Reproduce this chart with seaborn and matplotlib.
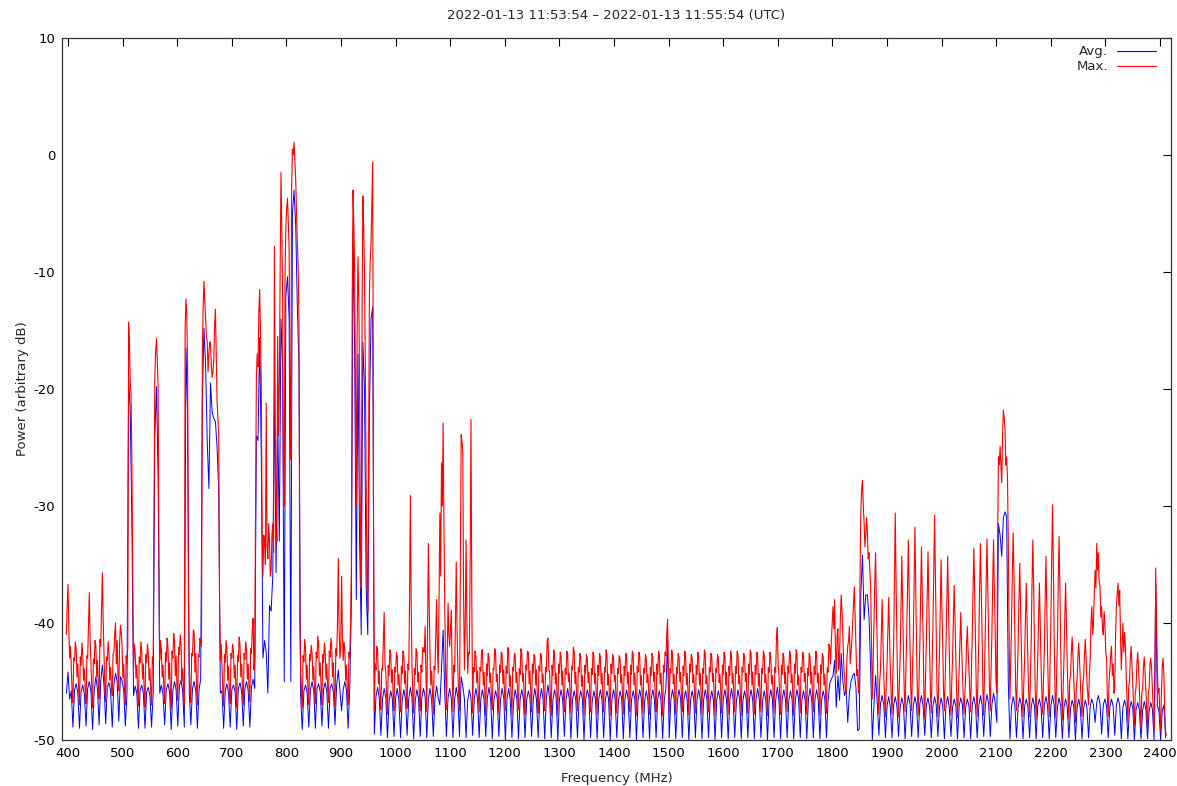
import numpy as np
import matplotlib
matplotlib.use("Agg")
import matplotlib.pyplot as plt
import seaborn as sns

# ---------------- data ----------------
title_text = "2022-01-13 11:53:54 \u2013 2022-01-13 11:55:54 (UTC)"
x_label = "Frequency (MHz)"
y_label = "Power (arbitrary dB)"
series_names = ["Avg.", "Max."]
x_ticks = list(range(400, 2401, 100))
y_ticks = list(range(-50, 11, 10))

# sample grid of the sweep (MHz): Avg. every 3 MHz, Max. every 1.5 MHz
F_START = 397
F_STEP = 3

# ---- Avg. (dB), 397 - 970 MHz
avg_uhf = [
    -46.0, -44.2, -46.5, -45.8, -48.9, -45.7, -45.2, -46.0, -49.0, -45.9, -45.3, -46.1,
    -48.8, -45.6, -45.0, -45.9, -49.1, -45.8, -44.6, -45.7, -48.7, -44.9, -43.6, -45.4,
    -48.6, -45.5, -45.1, -45.8, -48.9, -45.3, -44.3, -45.0, -48.4, -44.6, -44.9, -45.8,
    -48.8, -46.0, -19.0, -22.0, -31.5, -46.2, -45.4, -46.0, -49.0, -45.8, -45.3, -46.0,
    -49.0, -45.9, -45.5, -46.2, -48.9, -46.0, -24.0, -19.8, -27.5, -46.0, -45.3, -46.1,
    -48.7, -45.7, -45.2, -45.9, -49.1, -45.8, -45.0, -45.7, -48.8, -45.4, -44.9, -45.8,
    -48.9, -16.5, -22.0, -45.9, -48.7, -45.6, -45.0, -45.8, -49.0, -45.7, -44.8, -21.0,
    -14.8, -18.0, -24.5, -28.5, -19.5, -22.0, -22.5, -22.8, -25.0, -28.6, -46.0, -45.8,
    -49.0, -45.8, -45.2, -46.0, -48.9, -45.7, -45.3, -45.9, -49.1, -45.6, -45.1, -45.9,
    -48.8, -45.6, -45.0, -45.8, -48.9, -45.5, -44.8, -45.6, -24.0, -24.4, -15.6, -26.0,
    -43.0, -41.5, -42.5, -46.0, -38.5, -39.0, -36.0, -20.0, -35.7, -22.0, -33.0, -14.0,
    -18.0, -45.0, -12.0, -10.4, -14.0, -45.0, -5.0, -3.0, -6.0, -13.0, -18.0, -46.2,
    -49.1, -45.8, -45.3, -46.0, -48.9, -45.7, -45.0, -45.8, -49.0, -45.6, -45.2, -45.9,
    -48.8, -45.7, -45.1, -45.9, -49.0, -45.6, -45.2, -45.9, -48.7, -45.3, -44.0, -45.8,
    -47.5, -45.7, -45.0, -45.8, -49.0, -45.6, -38.0, -6.5, -17.0, -38.0, -17.0, -33.0,
    -41.0, -16.0, -20.0, -37.0, -41.0, -22.0, -14.0, -13.0, -49.5, -46.3, -45.5, -46.4,
]
# ---- Avg. (dB), 973 - 1798 MHz
avg_mid = [
    -49.6, -46.5, -45.6, -46.4, -49.8, -46.7, -45.8, -46.5, -49.7, -46.4, -45.6, -46.6,
    -49.8, -46.6, -45.7, -46.5, -49.6, -46.5, -45.5, -46.4, -49.9, -46.6, -45.7, -46.5,
    -49.7, -46.4, -45.6, -46.3, -49.8, -46.5, -45.6, -46.6, -49.7, -46.5, -45.4, -46.4,
    -47.0, -44.0, -40.6, -46.0, -49.7, -46.4, -45.6, -46.5, -49.8, -46.6, -45.5, -46.4,
    -49.7, -44.6, -45.4, -46.5, -49.8, -46.6, -45.7, -46.4, -49.6, -46.5, -45.6, -46.5,
    -49.8, -46.5, -45.7, -46.6, -49.7, -46.4, -45.5, -46.5, -49.9, -46.6, -45.8, -46.4,
    -49.7, -46.6, -45.6, -46.4, -50.0, -46.5, -45.6, -46.6, -49.8, -46.7, -45.7, -46.5,
    -49.9, -46.5, -45.7, -46.5, -49.8, -46.6, -45.8, -46.4, -49.7, -46.5, -45.6, -46.6,
    -49.8, -46.6, -45.6, -46.5, -49.9, -46.4, -45.3, -46.5, -49.8, -46.6, -45.7, -46.4,
    -50.0, -46.5, -45.7, -46.6, -49.7, -46.6, -45.6, -46.5, -49.9, -46.5, -45.8, -46.6,
    -49.8, -46.6, -45.8, -46.5, -50.0, -46.5, -45.7, -46.4, -49.8, -46.7, -45.8, -46.5,
    -49.9, -46.5, -45.7, -46.6, -49.8, -46.6, -45.8, -46.5, -50.0, -46.6, -45.7, -46.5,
    -49.8, -46.7, -45.8, -46.5, -49.9, -46.5, -45.7, -46.6, -49.8, -46.6, -45.8, -46.5,
    -50.0, -46.6, -45.7, -46.5, -49.8, -46.7, -45.8, -46.6, -49.9, -46.5, -45.7, -46.6,
    -49.8, -46.5, -45.8, -46.6, -49.9, -46.6, -45.5, -41.5, -49.8, -46.6, -45.7, -46.5,
    -49.9, -46.6, -45.7, -46.5, -49.8, -46.5, -45.8, -46.6, -50.0, -46.7, -45.8, -46.5,
    -49.8, -46.5, -45.7, -46.6, -49.9, -46.6, -45.7, -46.5, -49.8, -46.6, -45.8, -46.6,
    -50.0, -46.6, -45.8, -46.5, -49.8, -46.5, -45.7, -46.6, -49.9, -46.6, -45.6, -46.5,
    -49.8, -46.7, -45.7, -46.6, -49.9, -46.6, -45.8, -46.5, -49.8, -46.5, -45.7, -46.6,
    -49.9, -46.5, -45.6, -46.5, -49.8, -46.7, -45.8, -46.6, -50.0, -46.6, -45.7, -46.5,
    -49.8, -46.6, -45.5, -46.6, -49.9, -46.5, -45.7, -46.6, -49.8, -46.7, -45.8, -46.5,
    -49.9, -46.6, -45.7, -46.5, -49.8, -46.6, -45.8, -46.6, -49.9, -46.5, -45.6, -46.6,
    -49.8, -46.5, -45.7, -46.6, -49.9, -46.6, -45.8, -46.5, -49.8, -46.6, -45.2, -44.8,
]
# ---- Avg. (dB), 1801 - 2410 MHz
avg_high = [
    -44.5, -43.2, -47.2, -44.5, -46.6, -42.6, -44.9, -46.2, -45.7, -48.5, -46.0, -45.0,
    -44.5, -44.3, -45.5, -49.2, -49.1, -37.5, -34.2, -39.7, -37.6, -37.6, -39.5, -44.0,
    -50.0, -47.0, -44.5, -46.8, -49.6, -46.9, -46.2, -47.0, -49.8, -47.1, -46.3, -47.2,
    -49.8, -47.0, -46.3, -47.1, -49.7, -47.2, -46.4, -47.0, -49.9, -47.1, -46.2, -46.9,
    -49.7, -47.1, -46.3, -47.0, -49.8, -46.9, -46.2, -47.1, -49.6, -47.0, -46.4, -47.2,
    -49.8, -47.1, -46.3, -47.0, -49.7, -47.2, -46.4, -47.1, -49.9, -47.0, -46.3, -47.2,
    -49.7, -47.2, -46.5, -47.1, -49.9, -47.1, -46.4, -47.0, -49.8, -47.2, -46.5, -47.1,
    -49.9, -47.0, -46.3, -47.1, -49.8, -47.1, -46.2, -47.0, -49.7, -47.0, -46.1, -46.9,
    -49.7, -47.0, -46.0, -46.8, -48.5, -31.5, -32.5, -34.3, -31.0, -30.5, -30.9, -45.0,
    -49.9, -47.1, -46.3, -47.0, -49.8, -47.2, -46.4, -47.0, -49.9, -47.1, -46.5, -47.2,
    -49.8, -47.2, -46.4, -47.1, -49.9, -47.1, -46.5, -47.2, -49.8, -47.0, -46.3, -47.1,
    -49.9, -47.1, -46.2, -47.0, -49.8, -47.2, -46.4, -47.1, -49.9, -47.2, -46.5, -47.2,
    -49.8, -47.3, -46.6, -47.2, -50.0, -47.2, -46.5, -47.3, -49.9, -47.3, -46.6, -47.2,
    -49.8, -47.1, -46.5, -47.0, -48.5, -46.8, -46.2, -46.9, -49.5, -47.0, -46.5, -47.1,
    -49.8, -47.2, -46.5, -47.1, -49.6, -47.0, -46.4, -47.0, -49.9, -47.2, -46.6, -47.2,
    -49.9, -47.4, -46.7, -47.3, -50.0, -47.4, -46.8, -47.4, -49.9, -47.5, -46.7, -47.4,
    -49.9, -47.5, -46.8, -47.4, -50.0, -36.6, -47.0, -47.6, -50.0, -47.5, -47.0, -49.8,
]

# ---- Max. (dB) on the 3 MHz grid
max_uhf = [
    -41.0, -36.7, -43.0, -43.8, -46.8, -43.2, -42.3, -43.5, -47.0, -43.6, -42.6, -43.9,
    -46.9, -43.0, -37.4, -43.4, -47.2, -43.5, -41.9, -43.2, -46.5, -42.0, -35.7, -42.8,
    -46.7, -43.2, -42.4, -43.8, -46.2, -42.5, -40.0, -41.5, -45.8, -40.2, -42.0, -43.5,
    -47.0, -43.5, -14.3, -19.5, -26.5, -43.8, -42.5, -43.6, -47.1, -43.4, -42.4, -43.5,
    -47.2, -43.4, -42.6, -43.9, -47.0, -43.5, -19.0, -15.7, -19.8, -43.2, -42.3, -43.6,
    -46.9, -43.3, -42.0, -43.4, -47.3, -43.0, -41.5, -42.8, -46.6, -42.7, -41.8, -43.9,
    -47.0, -12.3, -18.0, -43.5, -46.8, -42.8, -40.8, -42.6, -47.0, -42.9, -41.6, -17.0,
    -10.8, -14.0, -16.0, -17.0, -16.0, -19.0, -17.5, -13.2, -21.0, -24.0, -43.2, -43.6,
    -47.1, -43.4, -42.2, -43.7, -46.9, -43.0, -42.5, -43.6, -47.2, -43.3, -41.9, -43.5,
    -47.0, -43.1, -42.3, -43.5, -46.7, -42.6, -39.6, -43.0, -19.0, -18.1, -11.5, -20.0,
    -36.0, -33.0, -21.2, -34.5, -33.0, -35.5, -31.5, -7.8, -30.3, -15.5, -20.0, -1.5,
    -12.0, -30.0, -6.0, -3.7, -8.0, -26.0, 0.5, 1.1, -2.1, -7.5, -14.0, -43.8,
    -47.2, -43.3, -42.1, -43.6, -47.0, -43.2, -42.6, -43.7, -46.9, -43.0, -41.8, -43.4,
    -47.0, -43.4, -42.4, -43.5, -46.8, -42.9, -42.0, -43.4, -47.1, -42.8, -34.5, -43.0,
    -36.0, -43.2, -42.3, -43.6, -47.0, -43.0, -35.0, -3.0, -10.0, -30.0, -8.7, -20.0,
    -37.0, -3.5, -10.0, -28.0, -39.0, -12.0, -7.5, -0.6, -47.5, -44.0, -42.4, -44.1,
]
max_mid = [
    -47.4, -44.0, -39.1, -44.3, -47.8, -44.5, -42.6, -44.0, -47.5, -44.2, -42.9, -44.4,
    -47.6, -44.3, -42.7, -44.1, -47.3, -44.0, -29.1, -43.8, -47.7, -44.4, -42.5, -44.2,
    -47.5, -44.2, -42.4, -40.3, -47.6, -33.2, -42.8, -44.1, -47.8, -44.0, -38.0, -44.3,
    -30.6, -26.3, -22.9, -38.5, -47.4, -38.3, -42.0, -38.9, -47.6, -44.2, -34.8, -44.0,
    -47.5, -23.9, -25.4, -44.0, -32.9, -44.3, -42.6, -22.6, -47.7, -44.2, -42.8, -44.1,
    -47.6, -44.1, -42.3, -44.2, -47.9, -44.5, -42.9, -44.3, -47.4, -44.0, -42.5, -44.4,
    -47.8, -44.2, -42.7, -44.0, -47.5, -44.3, -42.4, -44.5, -47.9, -44.1, -42.8, -44.2,
    -47.4, -44.4, -42.6, -44.3, -47.8, -44.0, -42.5, -44.1, -47.6, -44.3, -42.9, -44.0,
    -47.7, -44.1, -42.8, -44.4, -47.5, -44.2, -41.3, -44.2, -47.9, -44.5, -42.6, -44.3,
    -47.9, -44.3, -42.9, -44.1, -47.6, -44.4, -42.7, -44.3, -47.7, -44.0, -42.4, -44.2,
    -47.5, -44.2, -42.8, -44.5, -47.9, -44.3, -43.0, -44.2, -47.6, -44.4, -42.8, -44.3,
    -47.8, -44.5, -42.9, -44.3, -47.6, -44.2, -42.7, -44.4, -47.9, -44.3, -43.0, -44.5,
    -47.7, -44.3, -43.0, -44.4, -47.8, -44.5, -42.9, -44.2, -47.6, -44.4, -42.7, -44.3,
    -47.9, -44.2, -42.8, -44.5, -47.7, -44.3, -43.0, -44.4, -47.8, -44.5, -42.9, -44.2,
    -47.6, -44.4, -42.7, -44.3, -47.9, -44.2, -42.8, -39.7, -47.7, -44.3, -42.6, -44.4,
    -47.8, -44.3, -42.9, -44.2, -47.6, -44.5, -42.7, -44.3, -47.9, -44.2, -43.0, -44.4,
    -47.7, -44.4, -42.8, -44.3, -47.8, -44.3, -42.6, -44.5, -47.6, -44.2, -42.9, -44.3,
    -47.9, -44.2, -43.0, -44.4, -47.7, -44.4, -42.8, -44.2, -47.8, -44.5, -42.7, -44.3,
    -47.6, -44.3, -42.7, -44.5, -47.9, -44.2, -42.9, -44.3, -47.7, -44.4, -42.6, -44.2,
    -47.8, -44.4, -42.8, -44.3, -47.6, -44.3, -42.7, -44.4, -47.9, -44.2, -42.8, -44.5,
    -47.7, -44.2, -40.4, -44.3, -47.8, -44.4, -42.9, -44.2, -47.6, -44.3, -42.7, -44.4,
    -47.9, -44.3, -42.6, -44.5, -47.7, -44.2, -42.8, -44.3, -47.8, -44.5, -42.9, -44.2,
    -47.6, -44.4, -42.7, -44.3, -47.9, -44.3, -42.9, -44.4, -47.7, -44.2, -42.0, -41.5,
]
max_high = [
    -38.6, -38.0, -44.3, -40.5, -43.0, -37.6, -41.0, -44.5, -46.0, -42.0, -40.3, -42.5,
    -40.0, -36.9, -42.0, -44.0, -45.0, -30.5, -27.8, -31.5, -32.5, -32.3, -34.0, -37.0,
    -46.5, -40.0, -34.0, -42.0, -47.8, -44.0, -38.0, -44.5, -48.0, -43.5, -37.8, -44.0,
    -47.8, -42.0, -30.6, -41.5, -48.0, -43.0, -34.3, -42.5, -47.6, -41.0, -32.9, -42.0,
    -47.5, -41.5, -31.8, -42.0, -47.9, -42.0, -33.5, -41.0, -48.2, -41.5, -33.9, -42.5,
    -47.7, -40.5, -30.8, -41.0, -48.0, -42.5, -34.6, -42.0, -47.5, -41.8, -34.3, -42.6,
    -47.9, -43.0, -36.8, -43.5, -48.1, -44.0, -39.1, -44.2, -47.8, -44.5, -40.3, -44.0,
    -47.6, -41.0, -33.6, -42.0, -48.0, -41.5, -33.2, -41.0, -47.9, -40.5, -32.8, -41.5,
    -47.5, -41.0, -32.9, -41.5, -46.0, -25.8, -24.9, -28.0, -21.8, -23.5, -25.8, -33.0,
    -46.5, -40.0, -32.3, -41.0, -47.5, -42.0, -34.9, -42.5, -48.0, -43.0, -36.6, -43.5,
    -48.0, -41.5, -32.9, -42.0, -48.2, -43.0, -36.6, -43.5, -47.8, -42.5, -34.3, -42.8,
    -48.0, -40.0, -29.9, -41.0, -48.1, -41.5, -32.6, -42.0, -48.3, -43.0, -36.6, -43.5,
    -48.2, -44.5, -41.2, -44.8, -48.5, -44.8, -41.7, -45.0, -48.0, -44.6, -41.4, -45.0,
    -47.0, -43.0, -38.6, -40.0, -35.5, -33.2, -34.0, -37.0, -38.6, -41.0, -40.0, -43.0,
    -48.0, -44.0, -42.0, -43.5, -45.5, -38.5, -36.6, -37.2, -44.0, -40.0, -40.8, -44.5,
    -48.5, -45.0, -42.0, -45.2, -48.8, -45.5, -42.5, -45.5, -48.9, -45.6, -42.9, -45.8,
    -49.0, -45.5, -43.0, -45.8, -49.2, -35.3, -44.0, -45.6, -49.3, -43.7, -44.5, -49.3,
]
# ---- Max. (dB) at the in-between samples (grid + 1.5 MHz)
max_half_uhf = [
    -38.5, -40.5, -42.0, -45.9, -43.0, -41.6, -44.6, -45.8, -42.9, -41.7, -44.9, -45.7,
    -42.8, -40.0, -41.5, -45.8, -43.1, -41.5, -44.6, -45.5, -41.4, -38.5, -40.0, -45.6,
    -42.9, -41.6, -44.9, -45.5, -42.6, -41.0, -43.5, -44.6, -41.7, -40.8, -44.7, -45.7,
    -42.8, -42.0, -16.0, -20.5, -35.0, -41.8, -44.7, -45.9, -42.9, -41.6, -44.8, -45.8,
    -42.7, -41.8, -44.9, -45.8, -42.9, -30.0, -16.8, -17.5, -34.0, -41.5, -44.6, -45.6,
    -42.5, -41.3, -44.8, -45.9, -42.4, -40.9, -44.5, -45.4, -42.1, -41.0, -44.9, -45.8,
    -15.0, -13.5, -38.0, -45.8, -42.6, -40.6, -44.2, -45.6, -42.7, -41.3, -42.0, -13.0,
    -12.5, -15.5, -18.5, -16.0, -18.0, -18.5, -14.5, -17.0, -22.5, -38.0, -41.8, -45.7,
    -42.7, -41.5, -44.9, -45.9, -42.6, -41.8, -44.7, -45.8, -42.8, -41.2, -44.6, -45.7,
    -42.6, -41.6, -44.8, -45.6, -42.2, -40.5, -44.0, -30.0, -17.0, -13.5, -15.0, -32.0,
    -32.5, -35.0, -33.5, -31.5, -36.0, -32.5, -34.0, -22.0, -33.0, -24.0, -10.0, -6.0,
    -28.0, -10.0, -4.5, -6.0, -20.0, -3.0, 0.0, -0.5, -5.0, -9.5, -40.0, -45.8,
    -42.8, -41.4, -44.8, -45.8, -42.7, -41.9, -44.9, -45.7, -42.5, -41.1, -44.5, -45.6,
    -42.7, -41.7, -44.8, -45.7, -42.4, -41.3, -44.6, -45.8, -42.2, -40.0, -40.5, -42.0,
    -41.0, -41.6, -44.9, -45.8, -42.5, -40.0, -12.0, -6.0, -20.0, -15.0, -12.0, -32.0,
    -14.0, -6.0, -18.0, -36.0, -25.0, -9.0, -4.0, -30.0, -43.5, -42.0, -45.2, -46.2,
]
max_half_mid = [
    -43.9, -41.5, -43.5, -46.2, -43.6, -42.3, -45.1, -46.4, -43.8, -42.5, -45.3, -46.1,
    -43.7, -42.4, -45.2, -46.3, -43.5, -38.0, -38.5, -46.2, -43.9, -42.2, -45.0, -46.4,
    -43.6, -42.1, -42.5, -44.5, -40.0, -38.5, -45.3, -46.0, -43.7, -41.0, -42.0, -38.0,
    -36.0, -30.0, -32.0, -44.0, -42.5, -41.0, -40.5, -44.5, -43.6, -40.0, -40.5, -46.3,
    -35.0, -24.5, -38.0, -40.0, -40.0, -42.5, -35.0, -38.0, -43.8, -42.4, -45.1, -46.2,
    -43.8, -42.3, -45.3, -46.2, -43.5, -42.6, -45.1, -46.4, -43.9, -42.2, -45.0, -46.3,
    -43.6, -42.5, -45.2, -46.1, -43.7, -42.1, -45.4, -46.3, -43.8, -42.6, -45.1, -46.2,
    -43.9, -42.2, -45.0, -46.4, -43.6, -42.4, -45.2, -46.1, -43.5, -42.7, -45.3, -46.3,
    -43.7, -42.6, -45.1, -46.2, -43.8, -41.5, -44.0, -46.4, -43.6, -42.3, -45.2, -46.1,
    -43.5, -42.5, -45.3, -46.3, -43.9, -42.4, -45.0, -46.2, -43.7, -42.1, -45.2, -46.4,
    -43.8, -42.6, -45.4, -46.1, -43.6, -42.7, -45.1, -46.3, -43.9, -42.5, -45.2, -46.2,
    -43.6, -42.6, -45.2, -46.4, -43.8, -42.3, -45.3, -46.1, -43.5, -42.7, -45.0, -46.3,
    -43.9, -42.8, -45.1, -46.2, -43.7, -42.6, -45.2, -46.4, -43.6, -42.4, -45.3, -46.1,
    -43.7, -42.5, -45.3, -46.3, -43.9, -42.7, -45.1, -46.2, -43.8, -42.6, -45.0, -46.4,
    -43.5, -42.4, -45.2, -46.1, -43.6, -42.5, -41.0, -44.0, -43.9, -42.3, -45.2, -46.3,
    -43.8, -42.6, -45.0, -46.4, -43.7, -42.4, -45.3, -46.2, -43.5, -42.7, -45.1, -46.1,
    -43.6, -42.5, -45.3, -46.2, -43.9, -42.3, -45.2, -46.3, -43.8, -42.6, -45.0, -46.4,
    -43.9, -42.7, -45.1, -46.1, -43.6, -42.5, -45.3, -46.3, -43.7, -42.4, -45.2, -46.2,
    -43.7, -42.4, -45.2, -46.3, -43.8, -42.6, -45.0, -46.4, -43.5, -42.3, -45.3, -46.1,
    -43.6, -42.5, -45.4, -46.2, -43.9, -42.4, -45.1, -46.1, -43.8, -42.5, -45.2, -46.3,
    -43.8, -41.2, -43.5, -46.4, -43.6, -42.6, -45.2, -46.2, -43.7, -42.4, -45.1, -46.3,
    -43.5, -42.3, -45.3, -46.1, -43.8, -42.5, -45.0, -46.4, -43.9, -42.6, -45.2, -46.2,
    -43.7, -42.4, -45.1, -46.3, -43.6, -42.6, -45.3, -46.2, -43.8, -41.8, -43.5, -40.0,
]
max_half_high = [
    -40.5, -42.5, -41.0, -44.0, -39.5, -39.0, -43.5, -45.5, -43.0, -41.5, -43.5, -41.5,
    -38.5, -39.5, -44.5, -46.0, -36.0, -28.5, -30.0, -33.5, -31.0, -34.5, -35.5, -42.0,
    -43.5, -36.5, -38.5, -46.0, -45.0, -41.0, -41.5, -46.5, -45.2, -40.5, -41.0, -46.2,
    -44.5, -36.0, -36.5, -45.8, -45.0, -38.5, -38.5, -46.0, -44.0, -37.0, -37.5, -45.8,
    -44.0, -36.5, -37.0, -46.0, -44.8, -37.5, -37.8, -46.2, -44.5, -37.5, -38.5, -46.0,
    -43.8, -35.5, -36.0, -45.8, -45.2, -38.5, -38.8, -45.9, -44.6, -38.0, -38.5, -46.1,
    -45.0, -39.5, -40.0, -46.2, -46.0, -41.5, -42.0, -46.4, -46.0, -42.0, -42.5, -46.0,
    -44.0, -37.0, -37.5, -46.0, -44.5, -37.0, -37.0, -45.8, -44.0, -36.5, -37.0, -45.5,
    -44.0, -36.5, -37.0, -45.0, -33.0, -26.5, -26.5, -24.0, -22.5, -26.5, -27.5, -41.0,
    -43.5, -35.5, -36.0, -45.5, -44.8, -38.0, -38.5, -46.0, -45.0, -39.5, -40.0, -46.2,
    -44.5, -36.5, -37.0, -46.0, -45.5, -39.5, -40.0, -46.2, -44.8, -38.0, -38.5, -46.0,
    -43.5, -34.5, -35.0, -45.8, -44.5, -36.5, -37.0, -46.0, -45.5, -39.5, -40.0, -46.3,
    -45.0, -42.5, -43.0, -46.8, -45.5, -43.0, -43.2, -46.8, -45.2, -42.8, -43.0, -46.0,
    -44.5, -40.0, -41.0, -37.5, -37.0, -35.5, -36.5, -39.5, -40.5, -39.0, -42.5, -46.5,
    -45.0, -42.8, -44.5, -46.0, -41.0, -37.5, -38.5, -41.0, -42.0, -42.5, -42.0, -46.5,
    -45.5, -43.0, -43.5, -47.2, -46.0, -43.5, -43.8, -47.5, -46.0, -43.8, -44.2, -47.5,
    -46.0, -43.5, -44.0, -47.5, -46.5, -40.0, -46.0, -47.8, -46.0, -43.0, -47.5, -49.6,
]

# ---------------- assemble ----------------
avg_db = np.array(avg_uhf + avg_mid + avg_high)
freq_avg = F_START + F_STEP * np.arange(len(avg_db))

max_on_grid = np.array(max_uhf + max_mid + max_high)
max_between = np.array(max_half_uhf + max_half_mid + max_half_high)
max_db = np.empty(2 * len(max_on_grid))
max_db[0::2] = max_on_grid
max_db[1::2] = max_between
freq_max = F_START + (F_STEP / 2) * np.arange(len(max_db))

# ---------------- plot ----------------
sns.set_theme(style="white")
plt.rcParams["font.family"] = ["DejaVu Sans"]
plt.rcParams["axes.unicode_minus"] = False

fig = plt.figure(figsize=(11.77, 7.86), dpi=100)
ax = fig.add_axes([62 / 1177, 1 - 740 / 786, (1171 - 62) / 1177, (740 - 38) / 786])

sns.lineplot(x=freq_avg, y=avg_db, color="#0000ff", linewidth=0.7,
             label=series_names[0], ax=ax)
sns.lineplot(x=freq_max, y=max_db, color="#ff0000", linewidth=0.8,
             label=series_names[1], ax=ax)

ax.set_xlim(389, 2420)
ax.set_ylim(-50, 10)
ax.set_xticks(x_ticks)
ax.set_yticks(y_ticks)
ax.tick_params(direction="in", length=6, width=0.8, top=True, right=True,
               labelsize=9.5, colors="black", pad=5)
for sp in ax.spines.values():
    sp.set_color("#333333")
    sp.set_linewidth(0.9)

ax.set_xlabel(x_label, fontsize=9.5, labelpad=9)
ax.set_ylabel(y_label, fontsize=9.5, labelpad=3)
fig.text(616.5 / 1177, 1 - 16 / 786, title_text, ha="center", va="center", fontsize=9.5)

leg = ax.legend(loc="upper right", bbox_to_anchor=(0.991, 0.997), borderaxespad=0,
                frameon=False, markerfirst=False, fontsize=9.5,
                handlelength=2.9, handletextpad=0.7, labelspacing=0.15)
for line in leg.get_lines():
    line.set_linewidth(0.8)

fig.savefig("out.png", dpi=100)
